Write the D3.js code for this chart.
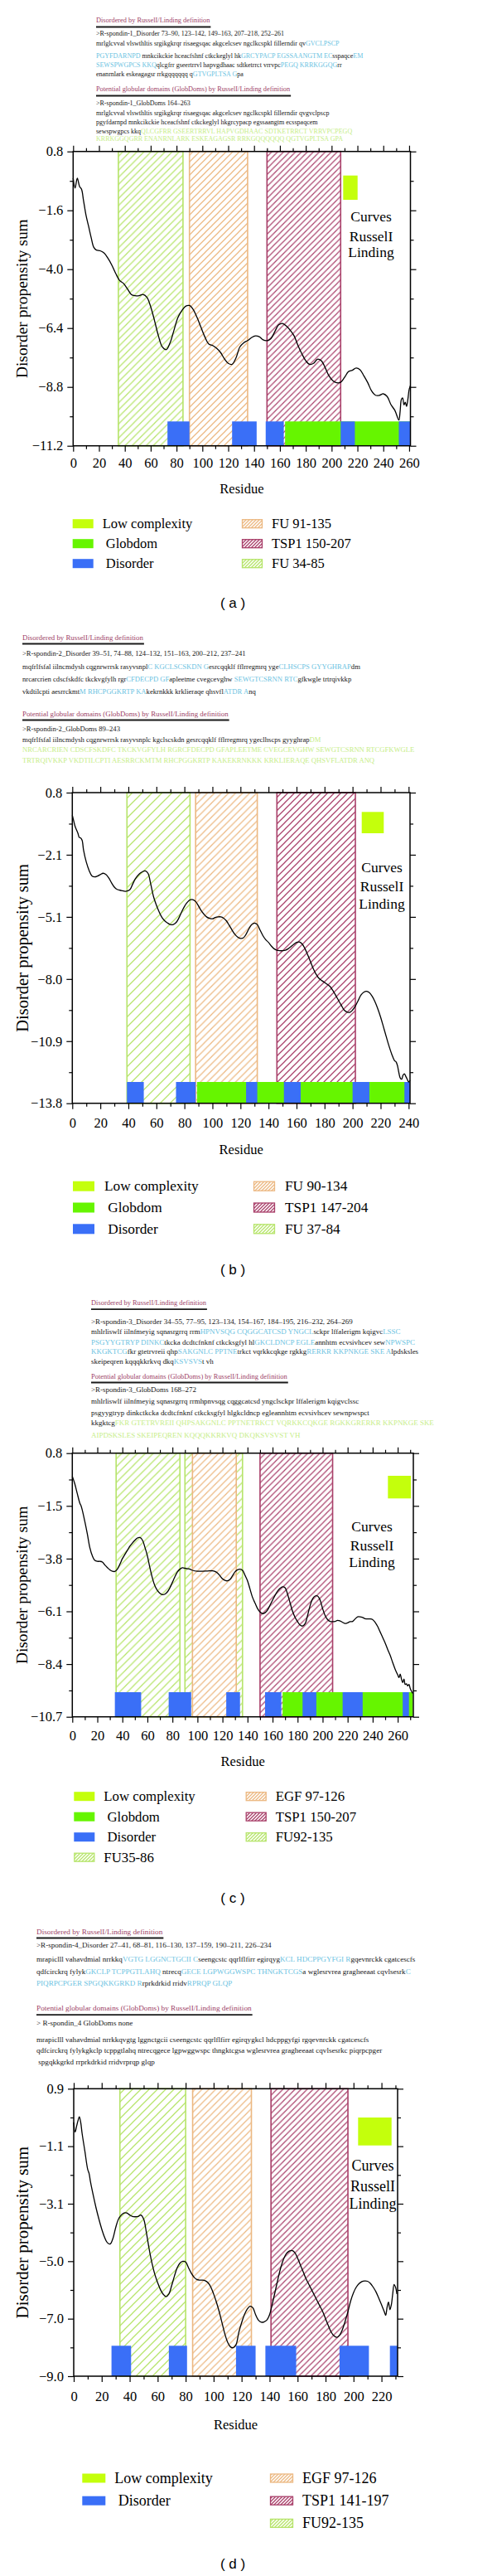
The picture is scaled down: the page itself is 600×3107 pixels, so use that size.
<!DOCTYPE html>
<html><head><meta charset="utf-8">
<script src="https://cdn.jsdelivr.net/npm/d3@7/dist/d3.min.js"></script>
<style>html,body{margin:0;padding:0;background:#fff}</style></head>
<body><svg id="chart" width="600" height="3107" xmlns="http://www.w3.org/2000/svg"></svg>
<script>
// ================= DATA =================
const titleDis = "Disordered by RusselI/Linding definition";
const titleGlob = "Potential globular domains (GlobDoms) by RusselI/Linding definition";
const curveBoxText = ["Curves", "RusselI", "Linding"];
const axisTitleY = "Disorder propensity sum";
const axisTitleX = "Residue";

// y tick labels
const yTickA = ["0.8", "−1.6", "−4.0", "−6.4", "−8.8", "−11.2"];
const yTickB = ["0.8", "−2.1", "−5.1", "−8.0", "−10.9", "−13.8"];
const yTickC = ["0.8", "−1.5", "−3.8", "−6.1", "−8.4", "−10.7"];
const yTickD = ["0.9", "−1.1", "−3.1", "−5.0", "−7.0", "−9.0"];

// residue extents (x domain max)
const lengthA = 261, lengthB = 241, lengthC = 272.5, lengthD = 231.5;

// disorder propensity sum curves [residue, value]
const curveA = [[0,-0.29],[1.5,-0.69],[3.2,-0.29],[5,-0.63],[6.5,-0.74],[8,-1.19],[10,-1.81],[12,-2.26],[14,-2.72],[16,-3.11],[18,-3.22],[21,-3.25],[24,-3.34],[27,-3.56],[30,-3.84],[33,-4.18],[36,-4.46],[39,-4.58],[42,-4.8],[45,-5.03],[48,-5.08],[51,-5.08],[54,-5.03],[57,-5.14],[60,-5.53],[63,-6.1],[66,-6.72],[69,-7.17],[72,-7.28],[75,-7.0],[78,-6.49],[81,-5.98],[84,-5.7],[87,-5.51],[90,-5.48],[93,-5.65],[96,-5.98],[99,-6.38],[102,-6.77],[105,-7.05],[108,-7.11],[111,-7.22],[114,-7.39],[117,-7.65],[120,-7.84],[123,-7.88],[126,-7.62],[129,-7.17],[132,-7.0],[135,-6.91],[138,-6.79],[141,-6.72],[144,-6.75],[147,-6.88],[150,-6.91],[153,-6.83],[156,-6.55],[159,-6.27],[162,-6.21],[165,-6.32],[168,-6.49],[171,-6.72],[174,-7.11],[177,-7.45],[180,-7.73],[183,-7.88],[186,-7.84],[189,-7.67],[192,-7.73],[195,-8.01],[198,-8.35],[201,-8.55],[204,-8.63],[207,-8.61],[210,-8.41],[213,-8.18],[216,-8.12],[219,-8.03],[222,-8.1],[225,-8.35],[228,-8.63],[231,-8.97],[234,-9.14],[237,-9.14],[240,-9.08],[243,-9.19],[246,-9.53],[249,-9.76],[252,-10.15],[253,-9.81],[254,-9.31],[255,-9.25],[256,-9.53],[257,-9.42],[258,-9.59],[259,-9.31],[260,-8.91],[261,-8.74]];
const curveB = [[0,-0.27],[1,-0.53],[2,-0.79],[4,-1.11],[5,-1.31],[6,-1.33],[7,-1.44],[8,-1.89],[10,-2.47],[12,-2.86],[14,-3.12],[16,-3.16],[18,-3.12],[20,-3.05],[22,-2.99],[24,-3.05],[26,-3.21],[28,-3.44],[30,-3.64],[32,-3.75],[35,-3.8],[38,-3.84],[41,-3.77],[43,-3.51],[45,-3.25],[48,-3.01],[50,-2.92],[52,-2.88],[54,-2.99],[56,-3.51],[58,-4.1],[60,-4.49],[62,-4.81],[64,-5.07],[66,-5.23],[68,-5.33],[70,-5.4],[72,-5.4],[74,-5.31],[76,-5.1],[78,-4.81],[80,-4.55],[82,-4.36],[84,-4.24],[86,-4.23],[88,-4.32],[90,-4.52],[92,-4.75],[94,-4.92],[96,-5.05],[98,-5.11],[100,-5.13],[102,-5.07],[104,-5.04],[106,-5.04],[108,-5.1],[110,-5.23],[112,-5.44],[114,-5.66],[116,-5.86],[118,-5.99],[120,-6.05],[122,-6.03],[124,-5.86],[126,-5.6],[128,-5.4],[130,-5.33],[132,-5.4],[134,-5.66],[136,-5.92],[138,-6.11],[140,-6.24],[142,-6.41],[144,-6.54],[146,-6.61],[148,-6.63],[150,-6.63],[152,-6.61],[154,-6.54],[156,-6.44],[158,-6.33],[160,-6.24],[162,-6.22],[164,-6.31],[166,-6.53],[168,-6.83],[170,-7.15],[172,-7.48],[174,-7.74],[176,-7.93],[178,-8.03],[180,-8.12],[182,-8.21],[184,-8.32],[186,-8.51],[188,-8.73],[190,-8.97],[192,-9.2],[194,-9.42],[196,-9.51],[198,-9.53],[200,-9.42],[202,-9.23],[204,-8.97],[206,-8.71],[208,-8.58],[210,-8.54],[212,-8.6],[214,-8.77],[216,-9.03],[218,-9.36],[220,-9.75],[222,-10.2],[224,-10.66],[226,-11.11],[228,-11.5],[230,-11.8],[231,-11.85],[232,-12.02],[233,-12.35],[234,-12.61],[235,-12.67],[236,-12.48],[237,-12.41],[238,-12.54],[239,-12.67],[240,-12.8],[241,-12.71]];
const curveC = [[0,-0.21],[2,-0.54],[4,-0.97],[6,-1.38],[7,-1.5],[8,-1.69],[10,-2.18],[12,-2.72],[14,-3.32],[16,-3.68],[18,-3.88],[20,-3.92],[22,-3.92],[24,-3.95],[26,-4.08],[28,-4.19],[30,-4.29],[32,-4.35],[34,-4.36],[36,-4.26],[38,-4.05],[40,-3.8],[42,-3.62],[44,-3.44],[46,-3.26],[48,-3.12],[50,-3.0],[52,-2.9],[54,-2.88],[56,-2.99],[58,-3.3],[60,-3.68],[62,-4.2],[64,-4.65],[66,-4.99],[68,-5.19],[70,-5.31],[72,-5.37],[74,-5.35],[76,-5.25],[78,-5.07],[80,-4.83],[82,-4.59],[84,-4.38],[86,-4.26],[88,-4.2],[90,-4.22],[92,-4.24],[94,-4.26],[96,-4.31],[100,-4.35],[104,-4.35],[108,-4.34],[112,-4.33],[114,-4.36],[116,-4.43],[118,-4.55],[120,-4.68],[122,-4.75],[124,-4.77],[126,-4.71],[128,-4.55],[130,-4.38],[132,-4.29],[134,-4.26],[136,-4.31],[138,-4.53],[140,-4.77],[142,-5.13],[144,-5.49],[146,-5.74],[148,-5.98],[150,-6.13],[152,-6.2],[154,-6.16],[156,-6.04],[158,-5.83],[160,-5.61],[162,-5.4],[164,-5.22],[166,-5.1],[168,-5.03],[170,-5.07],[172,-5.35],[174,-5.73],[176,-6.1],[178,-6.36],[180,-6.55],[182,-6.7],[184,-6.74],[186,-6.64],[188,-6.28],[190,-5.85],[192,-5.55],[194,-5.43],[196,-5.43],[198,-5.61],[200,-5.98],[202,-6.28],[204,-6.46],[206,-6.54],[208,-6.55],[210,-6.54],[212,-6.49],[214,-6.52],[216,-6.58],[218,-6.63],[220,-6.6],[222,-6.55],[224,-6.54],[226,-6.43],[228,-6.34],[230,-6.34],[232,-6.37],[234,-6.42],[236,-6.43],[238,-6.43],[240,-6.46],[242,-6.58],[244,-6.76],[246,-7.0],[248,-7.24],[250,-7.48],[252,-7.76],[254,-8.02],[256,-8.33],[258,-8.63],[260,-8.87],[261,-8.99],[262,-8.84],[263,-9.05],[264,-9.21],[265,-9.05],[266,-9.29],[267,-9.26],[268,-9.35],[269,-9.29],[270,-9.46],[271,-9.58],[272,-9.68]];
const curveD = [[0,-0.26],[1,-0.59],[2,-0.4],[3,-0.21],[4,-0.07],[5,-0.26],[6,-0.64],[8,-1.26],[10,-1.88],[11,-2.02],[12,-2.31],[14,-2.78],[16,-3.21],[18,-3.59],[20,-3.93],[22,-4.21],[24,-4.4],[26,-4.45],[28,-4.26],[30,-3.88],[32,-3.59],[34,-3.45],[36,-3.38],[38,-3.38],[40,-3.45],[42,-3.5],[44,-3.51],[46,-3.5],[48,-3.45],[50,-3.59],[52,-4.07],[54,-4.64],[56,-5.12],[58,-5.5],[60,-5.78],[62,-6.02],[64,-6.18],[66,-6.26],[68,-6.17],[70,-5.88],[72,-5.55],[74,-5.26],[76,-5.1],[78,-5.04],[80,-5.07],[82,-5.26],[84,-5.45],[86,-5.59],[88,-5.67],[90,-5.69],[92,-5.69],[94,-5.71],[96,-5.78],[98,-5.93],[100,-6.17],[102,-6.45],[104,-6.78],[106,-7.16],[108,-7.54],[110,-7.83],[112,-7.99],[114,-8.02],[116,-7.92],[118,-7.49],[120,-7.16],[122,-6.88],[124,-6.69],[126,-6.59],[128,-6.64],[130,-6.88],[132,-7.07],[134,-7.14],[136,-7.13],[138,-7.07],[140,-6.88],[142,-6.5],[144,-6.08],[146,-5.65],[148,-5.26],[150,-4.97],[152,-4.78],[154,-4.69],[156,-4.67],[158,-4.74],[160,-4.93],[162,-5.17],[164,-5.4],[166,-5.64],[168,-5.83],[170,-6.02],[172,-6.21],[174,-6.4],[176,-6.59],[178,-6.78],[180,-7.02],[182,-7.26],[184,-7.48],[186,-7.61],[188,-7.66],[190,-7.59],[192,-7.4],[194,-7.11],[196,-6.78],[198,-6.4],[200,-6.12],[202,-5.93],[204,-5.81],[206,-5.74],[208,-5.72],[210,-5.73],[212,-5.8],[214,-5.93],[216,-6.09],[218,-6.31],[220,-6.54],[222,-6.78],[223,-6.9],[224,-6.62],[225,-6.45],[226,-6.71],[227,-6.55],[228,-6.17],[229,-5.84],[230,-5.93],[231,-6.17]];

// annotated domains [kind, start, end]
const regionsA = [["fuG",35,85],["fuO",90,135],["tsp",150,207]];
const regionsB = [["fuG",39,84],["fuO",88,132],["tsp",146,202]];
const regionsC = [["fuG",35,86],["fuG",90,136],["fuO",96,131],["tsp",150,208]];
const regionsD = [["fuG",33,80],["fuO",85,127],["tsp",141,196]];

// disorder / globular domain segments
const disA = [[73,90],[123,142],[149,163],[207,218],[252,261]];
const globA = [[164,263]];
const disB = [[39,51],[74,88],[124,132],[151,163],[200,212],[237,241]];
const globB = [[89,243]];
const disC = [[34,55],[77,95],[123,134],[154,167],[184,195],[216,232],[264,269]];
const globC = [[168,272]];
const disD = [[27,41],[68,81],[116,130],[137,159],[190,211],[226,234]];
const globD = [];

// legends [kind, label]
const legLeftA = [["lowc","Low complexity"],["glob"," Globdom"],["dis"," Disorder"]];
const legRightA = [["fuO","FU 91-135"],["tsp","TSP1 150-207"],["fuG","FU 34-85"]];
const legLeftB = [["lowc","Low complexity"],["glob"," Globdom"],["dis"," Disorder"]];
const legRightB = [["fuO","FU 90-134"],["tsp","TSP1 147-204"],["fuG","FU 37-84"]];
const legLeftC = [["lowc","Low complexity"],["glob"," Globdom"],["dis"," Disorder"],["fuG","FU35-86"]];
const legRightC = [["fuO","EGF 97-126"],["tsp","TSP1 150-207"],["fuG","FU92-135"]];
const legLeftD = [["lowc","Low complexity"],["dis"," Disorder"]];
const legRightD = [["fuO","EGF 97-126"],["tsp","TSP1 141-197"],["fuG","FU92-135"]];

// sequence text: segments [type, text]; n = plain, d = disordered, g = globular
const seqDisA = [
 [["n",">R-spondin-1_Disorder 73–90, 123–142, 149–163, 207–218, 252–261"]],
 [["n","mrlglcvval vlswthltis srgikgkrqr risaegsqac akgcelcsev ngclkcspkl fillerndir qv"],["d","GVCLPSCP"]],
 [["d","PGYFDARNPD"],["n"," mnkcikckie hceacfshnf ctkckeglyl hk"],["d","GRCYPACP EGSSAANGTM EC"],["n","sspaqce"],["d","EM"]],
 [["d","SEWSPWGPCS KKQ"],["n","qlcgfrr gseertrrvl hapvgdhaac sdtketrrct vrrvpc"],["d","PEGQ KRRKGGQG"],["n","rr"]],
 [["n","enanrnlark eskeagagsr rrkgqqqqqq q"],["d","GTVGPLTSA G"],["n","pa"]]
];
const seqGlobA = [
 [["n",">R-spondin-1_GlobDoms 164–263"]],
 [["n","mrlglcvval vlswthltis srgikgkrqr risaegsqac akgcelcsev ngclkcspkl fillerndir qvgvclpscp"]],
 [["n","pgyfdarnpd mnkcikckie hceacfshnf ctkckeglyl hkgrcypacp egssaangtm ecsspaqcem"]],
 [["n","sewspwgpcs kkq"],["g","QLCGFRR GSEERTRRVL HAPVGDHAAC SDTKETRRCT VRRVPCPEGQ"]],
 [["g","KRRKGGQGRR ENANRNLARK ESKEAGAGSR RRKGQQQQQQ QGTVGPLTSA GPA"]]
];
const seqDisB = [
 [["n",">R-spondin-2_Disorder 39–51, 74–88, 124–132, 151–163, 200–212, 237–241"]],
 [["n","mqfrlfsfal iilncmdysh cqgnrwrrsk rasyvsnpl"],["d","C KGCLSCSKDN G"],["n","esrcqqklf fflrregmrq yge"],["d","CLHSCPS GYYGHRAP"],["n","dm"]],
 [["n","nrcarcrien cdscfskdfc tkckvgfylh rgr"],["d","CFDECPD GF"],["n","apleetme cvegcevghw "],["d","SEWGTCSRNN RTC"],["n","gfkwgle trtrqivkkp"]],
 [["n","vkdtilcpti aesrrckmt"],["d","M RHCPGGKRTP KA"],["n","kekrnkkk krklieraqe qhsvfl"],["d","ATDR A"],["n","nq"]]
];
const seqGlobB = [
 [["n",">R-spondin-2_GlobDoms 89–243"]],
 [["n","mqfrlfsfal iilncmdysh cqgnrwrrsk rasyvsnplc kgclscskdn gesrcqqklf fflrregmrq ygeclhscps gyyghrap"],["g","DM"]],
 [["g","NRCARCRIEN CDSCFSKDFC TKCKVGFYLH RGRCFDECPD GFAPLEETME CVEGCEVGHW SEWGTCSRNN RTCGFKWGLE"]],
 [["g","TRTRQIVKKP VKDTILCPTI AESRRCKMTM RHCPGGKRTP KAKEKRNKKK KRKLIERAQE QHSVFLATDR ANQ"]]
];
const seqDisC = [
 [["n",">R-spondin-3_Disorder 34–55, 77–95, 123–134, 154–167, 184–195, 216–232, 264–269"]],
 [["n","mhlrliswlf iilnfmeyig sqnasrgrrq rrm"],["d","HPNVSQG CQGGCATCSD YNGCL"],["n","sckpr lffalerigm kqigvc"],["d","LSSC"]],
 [["d","PSGYYGTRYP DINKC"],["n","tkcka dcdtcfnknf ctkcksgfyl hl"],["d","GKCLDNCP EGLE"],["n","annhtm ecvsivhcev sew"],["d","NPWSPC"]],
 [["d","KKGKTCG"],["n","fkr gtetrvreii qhp"],["d","SAKGNLC PPTNE"],["n","trkct vqrkkcqkge rgkkg"],["d","RERKR KKPNKGE SKE A"],["n","lpdsksles"]],
 [["n","skeipeqren kqqqkkrkvq dkq"],["d","KSVSVS"],["n","t vh"]]
];
const seqGlobC = [
 [["n",">R-spondin-3_GlobDoms 168–272"]],
 [["n","mhlrliswlf iilnfmeyig sqnasrgrrq rrmhpnvsqg cqggcatcsd yngclsckpr lffalerigm kqigvclssc"]],
 [["n","psgyygtryp dinkctkcka dcdtcfnknf ctkcksgfyl hlgkcldncp egleannhtm ecvsivhcev sewnpwspct"]],
 [["n","kkgktcg"],["g","FKR GTETRVREII QHPSAKGNLC PPTNETRKCT VQRKKCQKGE RGKKGRERKR KKPNKGE SKE"]],
 [["g","AIPDSKSLES SKEIPEQREN KQQQKKRKVQ DKQKSVSVST VH"]]
];
const seqDisD = [
 [["n",">R-spondin-4_Disorder 27–41, 68–81, 116–130, 137–159, 190–211, 226–234"]],
 [["n","mrapiclll vahavdmial nrrkkq"],["d","VGTG LGGNCTGCII C"],["n","seengcstc qqrlflfirr egirqyg"],["d","KCL HDCPPGYFGI R"],["n","gqevnrckk cgatcescfs"]],
 [["n","qdfcirckrq fylyk"],["d","GKCLP TCPPGTLAHQ"],["n"," ntrecq"],["d","GECE LGPWGGWSPC THNGKTCGS"],["n","a wglesrvrea gragheeaat cqvlsesrk"],["d","C"]],
 [["d","PIQRPCPGER SPGQKKGRKD R"],["n","rprkdrkid rridv"],["d","RPRQP GLQP"]]
];
const seqGlobD = [
 [["n","> R-spondin_4 GlobDoms none"]],
 [["n","mrapiclll vahavdmial nrrkkqvgtg lggnctgcii cseengcstc qqrlflfirr egirqygkcl hdcppgyfgi rgqevnrckk cgatcescfs"]],
 [["n","qdfcirckrq fylykgkclp tcppgtlahq ntrecqgece lgpwggwspc thngktcgsa wglesrvrea gragheeaat cqvlsesrkc piqrpcpger"]],
 [["n"," spgqkkgrkd rrprkdrkid rridvrprqp glqp"]]
];
const panelTags = ["( a )", "( b )", "( c )", "( d )"];

// ================= LAYOUT / STYLE =================
const SERIF = "'Liberation Serif','Times New Roman',serif";
const SANS = "'Liberation Sans',Arial,sans-serif";
const COL = {dis:"#3a6ff7", glob:"#66f500", lowc:"#c4ff0c", fuG:"#b6e46a", fuO:"#ecb882", tsp:"#a9406a",
  title:"#9e3f67", seqD:"#6cc3e2", seqG:"#c7ee8a"};

const layouts = [
 {x0:88.3,x1:495.5,y0:182.7,y1:537.7,barH:29.4,hs:{fuG:8.5,fuO:8,tsp:7.2},textX:116,titleW:137.6,
  fit:[["dis",1,289],["glob",1,287]],titleDisY:25,disY:[41,53,68,79,90],titleGlobY:108,globY:[125,137,148,159,168],
  xLabGap:20.3,resY:590,yTitleFs:19.4,legY:631.7,legStep:24,legL:87.7,legR:292,legTxt:36,swW:25,swH:11,legFs:16.5,tagY:727,
  box:{x:414.3,y:211.7,w:17.4,h:29.3,tx:448,ty:[261.7,285,304],fs:17.5}},
 {x0:87.3,x1:495,y0:956,y1:1330.7,barH:25.7,hs:{fuG:12,fuO:8.5,tsp:8},textX:27,titleW:146,
  fit:[["dis",1,411],["glob",2,471]],titleDisY:769,disY:[788.7,804.3,819.3,834.3],titleGlobY:861,globY:[879,892.3,904,917.7],
  xLabGap:23.3,resY:1386.7,yTitleFs:20.5,legY:1430.7,legStep:25.8,legL:88,legR:306,legTxt:38,swW:26,swH:12,legFs:17.3,tagY:1530.7,
  box:{x:436.7,y:979.3,w:26.6,h:25.7,tx:461,ty:[1046,1069.3,1090],fs:17.5}},
 {x0:87.3,x1:499,y0:1752.7,y1:2070.7,barH:29.7,hs:{fuG:9.5,fuO:8.3,tsp:7.3},textX:110,titleW:139.3,
  fit:[["dis",1,349],["glob",1,345]],titleDisY:1571.7,disY:[1594.3,1606.7,1619.3,1630.7,1642],titleGlobY:1660,globY:[1676.7,1690,1704,1716.7,1731.7],
  xLabGap:22.6,resY:2125,yTitleFs:19.3,legY:2166.7,legStep:24.5,legL:89.3,legR:296.7,legTxt:36,swW:25,swH:11,legFs:16.8,tagY:2289.3,
  box:{x:468.3,y:1780,w:27.7,h:27.3,tx:449,ty:[1841.7,1864,1884],fs:17.5}},
 {x0:89,x1:480,y0:2519.3,y1:2866,barH:36.7,hs:{fuG:10,fuO:8.3,tsp:7.3},textX:44,titleW:152.7,
  fit:[["dis",1,461],["glob",1,399]],titleDisY:2330,disY:[2346.7,2363,2378,2392],titleGlobY:2422.7,globY:[2440.7,2460,2473,2487],
  xLabGap:24,resY:2925,yTitleFs:21,legY:2989,legStep:27.2,legL:99.3,legR:326,legTxt:39,swW:28,swH:11,legFs:18,tagY:3091.7,
  box:{x:432.3,y:2554,w:40.4,h:33.7,tx:450,ty:[2611.7,2636.7,2658.3],fs:18}}
];

const panels = [
 {yTicks:yTickA,len:lengthA,curve:curveA,regions:regionsA,dis:disA,glob:globA,seqDis:seqDisA,seqGlob:seqGlobA,legL:legLeftA,legR:legRightA},
 {yTicks:yTickB,len:lengthB,curve:curveB,regions:regionsB,dis:disB,glob:globB,seqDis:seqDisB,seqGlob:seqGlobB,legL:legLeftB,legR:legRightB},
 {yTicks:yTickC,len:lengthC,curve:curveC,regions:regionsC,dis:disC,glob:globC,seqDis:seqDisC,seqGlob:seqGlobC,legL:legLeftC,legR:legRightC},
 {yTicks:yTickD,len:lengthD,curve:curveD,regions:regionsD,dis:disD,glob:globD,seqDis:seqDisD,seqGlob:seqGlobD,legL:legLeftD,legR:legRightD}
];

// ================= DRAW =================
const svg = d3.select("#chart");
svg.append("rect").attr("width",600).attr("height",3107).attr("fill","#fff");
const defs = svg.append("defs");

function hatch(id, color, s, sw){
  const p = defs.append("pattern").attr("id",id).attr("patternUnits","userSpaceOnUse")
    .attr("width",s).attr("height",s);
  p.append("path").attr("d",`M-1,1 l2,-2 M0,${s} l${s},${-s} M${s-1},${s+1} l2,-2`)
    .attr("stroke",color).attr("stroke-width",sw).attr("fill","none");
}
["fuG","fuO","tsp"].forEach(k=>hatch("leg-"+k, COL[k], 4, 1.3));

function measure(str, fs, family){
  const t = svg.append("text").attr("font-family",family).style("font-size",fs+"px")
    .style("white-space","pre").text(str);
  const w = t.node().getComputedTextLength(); t.remove(); return w;
}
const lineStr = segs => segs.map(s=>s[1]).join("");
const segColor = k => k==="d"?COL.seqD:(k==="g"?COL.seqG:"#161616");

function drawLines(g, lines, x, ys, fs){
  lines.forEach((segs,i)=>{
    const t = g.append("text").attr("x",x).attr("y",ys[i]+fs*0.3)
      .style("font-size",fs+"px").style("white-space","pre");
    segs.forEach(([k,s])=>t.append("tspan").attr("fill",segColor(k)).text(s));
  });
}
function drawTitle(g, str, x, y, fs){
  g.append("text").attr("x",x).attr("y",y+fs*0.3).attr("fill",COL.title)
    .style("font-size",fs+"px").text(str);
  const w = measure(str, fs, SERIF);
  g.append("line").attr("x1",x).attr("x2",x+w+1).attr("y1",y+7.5).attr("y2",y+7.5)
    .attr("stroke","#1a1a1a").attr("stroke-width",1.8);
}

panels.forEach((P,pi)=>{
  const L = layouts[pi];
  ["fuG","fuO","tsp"].forEach(k=>hatch(`h${pi}-${k}`, COL[k], L.hs[k], 1.25));

  // ---- header text ----
  const tg = svg.append("g").attr("font-family",SERIF);
  const tfs = 10*L.titleW/measure(titleDis,10,SERIF);
  const sizes = L.fit.map(([which,idx,target])=>{
    const segs = (which==="dis"?P.seqDis:P.seqGlob)[idx];
    return 10*target/measure(lineStr(segs),10,SERIF);
  });
  const sfs = d3.mean(sizes);
  drawTitle(tg, titleDis, L.textX, L.titleDisY, tfs);
  drawLines(tg, P.seqDis, L.textX, L.disY, sfs);
  drawTitle(tg, titleGlob, L.textX, L.titleGlobY, tfs);
  drawLines(tg, P.seqGlob, L.textX, L.globY, sfs);

  // ---- scales ----
  const yVals = P.yTicks.map(s=>+s.replace("−","-"));
  const yTop = yVals[0], yBot = yVals[yVals.length-1];
  const x = d3.scaleLinear().domain([0,P.len]).range([L.x0,L.x1]);
  const y = d3.scaleLinear().domain([yBot,yTop]).range([L.y1,L.y0]);
  const step = (yTop-yBot)/(yVals.length-1);
  const yMajor = d3.range(yVals.length).map(i=>yTop-i*step);
  const yMinor = d3.range(yVals.length-1).map(i=>yTop-(i+0.5)*step);
  const xMajor = d3.range(0,P.len+0.01,20);
  const xMinor = d3.range(10,P.len+0.01,20);
  const cx = v=>x(Math.max(0,Math.min(P.len,v)));

  const g = svg.append("g");
  // ---- hatched domain regions ----
  P.regions.forEach(([k,s,e])=>{
    g.append("rect").attr("x",cx(s)).attr("y",L.y0).attr("width",cx(e)-cx(s)).attr("height",L.y1-L.y0)
      .attr("fill","#fff");
    g.append("rect").attr("x",cx(s)).attr("y",L.y0).attr("width",cx(e)-cx(s)).attr("height",L.y1-L.y0)
      .attr("fill",`url(#h${pi}-${k})`).attr("stroke",COL[k]).attr("stroke-width",1.6);
  });
  // ---- bars ----
  P.glob.forEach(([s,e])=>{
    g.append("rect").attr("x",cx(s)).attr("y",L.y1-L.barH).attr("width",cx(e)-cx(s)).attr("height",L.barH)
      .attr("fill",COL.glob);
  });
  P.dis.forEach(([s,e])=>{
    g.append("rect").attr("x",cx(s)).attr("y",L.y1-L.barH).attr("width",cx(e)-cx(s)).attr("height",L.barH)
      .attr("fill",COL.dis);
  });
  // ---- curve ----
  g.append("path").datum(P.curve)
    .attr("d",d3.line().x(d=>x(d[0])).y(d=>y(d[1])).curve(d3.curveCatmullRom.alpha(0.5)))
    .attr("fill","none").attr("stroke","#000").attr("stroke-width",1.3);

  // ---- axes ----
  const styleAx = sel=>{
    sel.select(".domain").remove();
    sel.selectAll(".tick line").attr("stroke","#000").attr("stroke-width",1.2);
    sel.attr("font-family",SERIF).attr("font-size",16.5);
    sel.selectAll(".tick text").attr("fill","#000");
  };
  const padX = L.xLabGap - 7 - 0.37*16.5;
  g.append("g").attr("transform",`translate(0,${L.y1})`)
    .call(d3.axisBottom(x).tickValues(xMajor).tickSize(7).tickPadding(padX).tickFormat(d3.format("d"))).call(styleAx);
  g.append("g").attr("transform",`translate(0,${L.y1})`)
    .call(d3.axisBottom(x).tickValues(xMinor).tickSize(4).tickFormat("")).call(styleAx);
  g.append("g").attr("transform",`translate(0,${L.y0})`)
    .call(d3.axisTop(x).tickValues(xMajor).tickSize(7).tickFormat("")).call(styleAx);
  g.append("g").attr("transform",`translate(0,${L.y0})`)
    .call(d3.axisTop(x).tickValues(xMinor).tickSize(4).tickFormat("")).call(styleAx);
  g.append("g").attr("transform",`translate(${L.x0},0)`)
    .call(d3.axisLeft(y).tickValues(yMajor).tickSize(7).tickPadding(5).tickFormat((d,i)=>P.yTicks[i])).call(styleAx);
  g.append("g").attr("transform",`translate(${L.x0},0)`)
    .call(d3.axisLeft(y).tickValues(yMinor).tickSize(4).tickFormat("")).call(styleAx);
  g.append("g").attr("transform",`translate(${L.x1},0)`)
    .call(d3.axisRight(y).tickValues(yMajor).tickSize(7).tickFormat("")).call(styleAx);
  g.append("g").attr("transform",`translate(${L.x1},0)`)
    .call(d3.axisRight(y).tickValues(yMinor).tickSize(4).tickFormat("")).call(styleAx);
  g.append("rect").attr("x",L.x0).attr("y",L.y0).attr("width",L.x1-L.x0).attr("height",L.y1-L.y0)
    .attr("fill","none").attr("stroke","#000").attr("stroke-width",1.5);

  // axis titles
  g.append("text").attr("x",(L.x0+L.x1)/2).attr("y",L.resY+0.33*16.5).attr("text-anchor","middle")
    .attr("font-family",SERIF).attr("font-size",16.5).text(axisTitleX);
  g.append("text").attr("transform",`translate(27,${(L.y0+L.y1)/2}) rotate(-90)`).attr("text-anchor","middle")
    .attr("dy","0.33em").attr("font-family",SERIF).attr("font-size",L.yTitleFs).text(axisTitleY);

  // curves box
  g.append("rect").attr("x",L.box.x).attr("y",L.box.y).attr("width",L.box.w).attr("height",L.box.h).attr("fill",COL.lowc);
  curveBoxText.forEach((t,i)=>{
    g.append("text").attr("x",L.box.tx).attr("y",L.box.ty[i]+0.33*L.box.fs).attr("text-anchor","middle")
      .attr("font-family",SERIF).attr("font-size",L.box.fs).text(t);
  });

  // legend
  const drawLeg = (items, lx)=>{
    items.forEach(([k,label],i)=>{
      const cy = L.legY + i*L.legStep;
      if (k==="lowc"||k==="glob"||k==="dis"){
        g.append("rect").attr("x",lx).attr("y",cy-L.swH/2).attr("width",L.swW).attr("height",L.swH).attr("fill",COL[k]);
      } else {
        g.append("rect").attr("x",lx+0.5).attr("y",cy-L.swH/2+0.5).attr("width",L.swW-1).attr("height",L.swH-1)
          .attr("fill",`url(#leg-${k})`).attr("stroke",COL[k]).attr("stroke-width",1.3);
      }
      g.append("text").attr("x",lx+L.legTxt).attr("y",cy+0.33*L.legFs).attr("font-family",SERIF)
        .attr("font-size",L.legFs).style("white-space","pre").text(label);
    });
  };
  drawLeg(P.legL, L.legL);
  drawLeg(P.legR, L.legR);

  g.append("text").attr("x",281).attr("y",L.tagY+0.35*17).attr("text-anchor","middle")
    .attr("font-family",SANS).attr("font-size",17).style("white-space","pre").text(panelTags[pi]);
});
</script></body></html>
